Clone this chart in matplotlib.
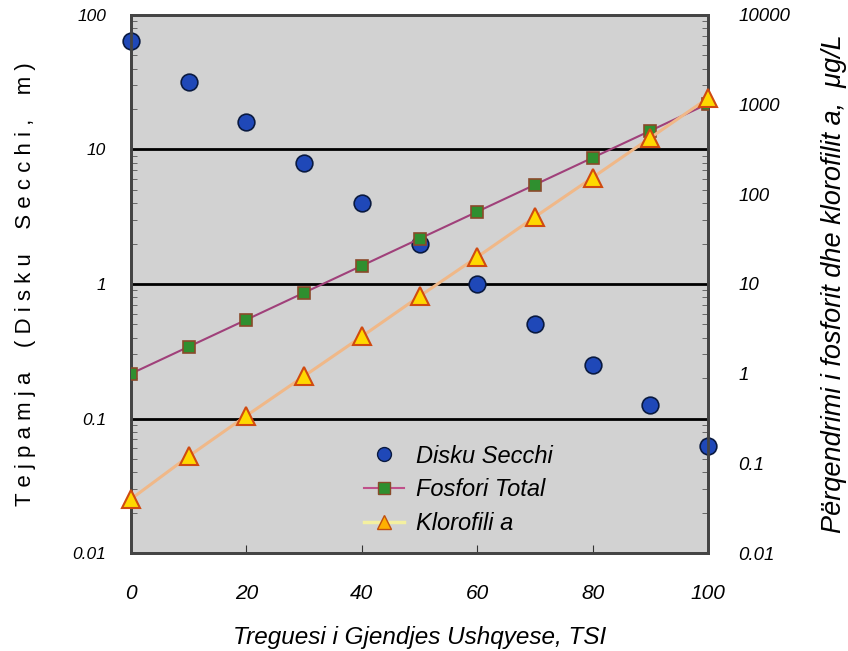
import matplotlib.pyplot as plt
from matplotlib.lines import Line2D

tsi = [0, 10, 20, 30, 40, 50, 60, 70, 80, 90, 100]
secchi = [64, 32, 16, 8, 4, 2, 1, 0.5, 0.25, 0.125, 0.0625]
fosfor = [1.0, 2, 4, 8, 16, 32, 64, 128, 256, 512, 1024]
klorofil = [0.04, 0.12, 0.34, 0.94, 2.6, 7.3, 20, 56, 154, 427, 1183]

x_ticks = [0, 20, 40, 60, 80, 100]
left_ticks = [0.01, 0.1, 1, 10, 100]
left_labels = ["0.01", "0.1", "1", "10", "100"]
right_ticks = [0.01, 0.1, 1, 10, 100, 1000, 10000]
right_labels = ["0.01", "0.1", "1", "10", "100", "1000", "10000"]
grid_levels = [0.1, 1, 10]

plt.rcParams['font.family'] = ['Liberation Sans', 'DejaVu Sans']

fig = plt.figure(figsize=(8.48, 6.51), dpi=100)
ax = fig.add_axes([0.1545, 0.1505, 0.6805, 0.8265])
ax.set_facecolor('#d2d2d2')
ax.set_yscale('log')
ax.set_xlim(0, 100)
ax.set_ylim(0.01, 100)

# black horizontal lines at 0.1, 1, 10
for g in grid_levels:
    ax.axhline(g, color='black', lw=2, zorder=1)

ax.plot(tsi, secchi, linestyle='none', marker='o', markersize=12,
        markerfacecolor='#1f48b8', markeredgecolor='#0a1a40', markeredgewidth=1.2, zorder=5,
        clip_on=False)

ax2 = ax.twinx()
ax2.set_yscale('log')
ax2.set_ylim(0.01, 10000)

ax2.plot(tsi, fosfor, color='#a0407a', lw=1.5, marker='s', markersize=8,
         markerfacecolor='#2f8f2f', markeredgecolor='#8a4a2a', markeredgewidth=1.2, zorder=3)
ax2.plot(tsi, klorofil, color='#f0b888', lw=2.2, marker='^', markersize=13,
         markerfacecolor='#ffd800', markeredgecolor='#d04a10', markeredgewidth=1.5, zorder=4,
         clip_on=False)

# ticks
ax.set_xticks(x_ticks)
ax.set_xticklabels([str(t) for t in x_ticks], fontsize=15, style='italic')
ax.tick_params(axis='x', direction='in', length=6, pad=22, colors='#333333', labelcolor='black')
ax.set_yticks(left_ticks)
ax.set_yticklabels(left_labels, fontsize=12.5, style='italic')
ax.tick_params(axis='y', which='both', direction='in', right=True, colors='#555555',
               labelcolor='black', pad=18)
ax.tick_params(axis='y', which='major', length=0)
ax.tick_params(axis='y', which='minor', length=4)

ax2.set_yticks(right_ticks)
ax2.set_yticklabels(right_labels, fontsize=13.5, style='italic')
ax2.tick_params(axis='y', which='both', length=0, pad=22)
ax2.yaxis.set_minor_locator(plt.NullLocator())

for a in (ax, ax2):
    for s in a.spines.values():
        s.set_color('#444444')
        s.set_linewidth(2)

ax.set_xlabel('Treguesi i Gjendjes Ushqyese, TSI', fontsize=17.5, style='italic', labelpad=17)
ax.set_ylabel('T e j p a m j a    ( D i s k u    S e c c h i ,    m )', fontsize=16,
              labelpad=26)
ax2.set_ylabel('Përqendrimi i fosforit dhe klorofilit a,  μg/L', fontsize=19.5,
               style='italic', labelpad=22)

handles = [
    Line2D([], [], linestyle='none', marker='o', markersize=10, markerfacecolor='#1f48b8',
           markeredgecolor='#0a1a40'),
    Line2D([], [], color='#c0508a', lw=1.5, marker='s', markersize=9,
           markerfacecolor='#2f8f2f', markeredgecolor='#8a4a2a'),
    Line2D([], [], color='#f4f0a0', lw=2.5, marker='^', markersize=10,
           markerfacecolor='#ffb000', markeredgecolor='#c05010'),
]
ax2.legend(handles, ['Disku Secchi', 'Fosfori Total', 'Klorofili a'], loc='lower center',
           bbox_to_anchor=(0.567, -0.006), frameon=False, prop={'size': 17, 'style': 'italic'},
           handlelength=1.7, labelspacing=0.45, handletextpad=0.5)

fig.savefig('out.png', dpi=100)
